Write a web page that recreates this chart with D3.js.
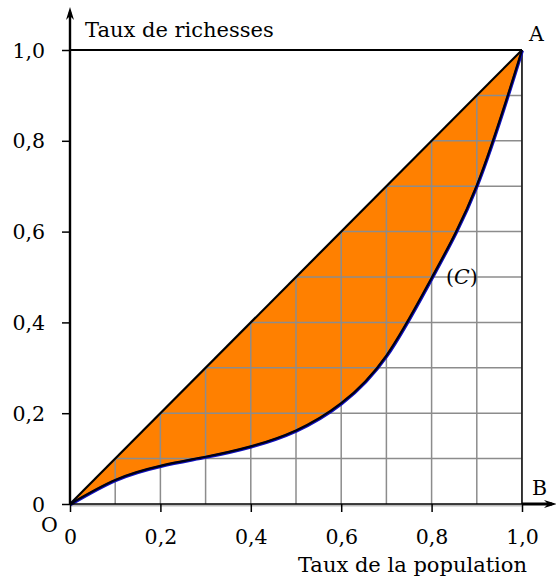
<!DOCTYPE html>
<html><head><meta charset="utf-8">
<script src="https://cdn.jsdelivr.net/npm/d3@7"></script>
<style>html,body{margin:0;padding:0;background:#fff;}svg{display:block;}</style>
</head><body>
<svg id="c" width="556" height="579"></svg>
<script>
const popShare = [0, 0.1, 0.2, 0.3, 0.4, 0.5, 0.6, 0.7, 0.8, 0.9, 1];
const wealthShare = [0, 0.053, 0.084, 0.104, 0.127, 0.162, 0.222, 0.327, 0.498, 0.702, 1];
const tickValues = [0, 0.2, 0.4, 0.6, 0.8, 1];
const tickLabels = ["0", "0,2", "0,4", "0,6", "0,8", "1,0"];
const gridValues = [0.1, 0.2, 0.3, 0.4, 0.5, 0.6, 0.7, 0.8, 0.9, 1];

const svg = d3.select("#c");
const font = "DejaVu Serif";
const x = d3.scaleLinear().domain([0, 1]).range([70, 522]);
const y = d3.scaleLinear().domain([0, 1]).range([504, 50]);

const pts = popShare.map((p, i) => [p, wealthShare[i]]);

// clip: triangle O, A, B
svg.append("defs").append("clipPath").attr("id", "tri")
  .append("path").attr("d", `M${x(0)},${y(0)}L${x(1)},${y(1)}L${x(1)},${y(0)}Z`);

// filled area between diagonal and curve
const curveGen = d3.line().x(d => x(d[0])).y(d => y(d[1])).curve(d3.curveNatural);
const curvePath = curveGen(pts);
svg.append("path")
  .attr("d", curvePath + "L" + x(0) + "," + y(0) + "Z")
  .attr("fill", "#ff8000").attr("stroke", "none");

// grid (only below the diagonal)
const g = svg.append("g").attr("stroke", "#8c8c8c").attr("stroke-width", 1.5).attr("clip-path", "url(#tri)");
gridValues.forEach(v => {
  g.append("line").attr("x1", x(v)).attr("x2", x(v)).attr("y1", y(0)).attr("y2", y(1));
  g.append("line").attr("x1", x(0)).attr("x2", x(1)).attr("y1", y(v)).attr("y2", y(v));
});
svg.append("line").attr("x1", x(1)).attr("x2", x(1)).attr("y1", y(1)).attr("y2", y(0))
  .attr("stroke", "#111").attr("stroke-width", 1.6);
svg.append("line").attr("x1", x(0)).attr("x2", x(1)).attr("y1", y(0)+1.5).attr("y2", y(0)+1.5)
  .attr("stroke", "#bbbbbb").attr("stroke-width", 2);

// top border
svg.append("line").attr("x1", x(0)).attr("x2", x(1)).attr("y1", y(1)).attr("y2", y(1))
  .attr("stroke", "#000").attr("stroke-width", 2.2);

// diagonal
svg.append("line").attr("x1", x(0)).attr("y1", y(0)).attr("x2", x(1)).attr("y2", y(1))
  .attr("stroke", "#000").attr("stroke-width", 2.2);

// curve
svg.append("path").attr("d", curvePath).attr("fill", "none")
  .attr("stroke", "#1010c0").attr("stroke-width", 3).attr("transform", "translate(0.5,0.6)");
svg.append("path").attr("d", curvePath).attr("fill", "none")
  .attr("stroke", "#000010").attr("stroke-width", 2.2);

// axes
const yAxis = d3.axisLeft(y).tickValues(tickValues).tickFormat((d, i) => tickLabels[i]).tickSize(8).tickPadding(12);
const xAxis = d3.axisBottom(x).tickValues(tickValues).tickFormat((d, i) => tickLabels[i]).tickSize(8).tickPadding(14);
const ya = svg.append("g").attr("transform", `translate(${x(0)},0)`).call(yAxis);
const xa = svg.append("g").attr("transform", `translate(0,${y(0)})`).call(xAxis);
[ya, xa].forEach(a => {
  a.select(".domain").remove();
  a.selectAll(".tick line").attr("stroke", "#000").attr("stroke-width", 1.5);
  a.selectAll(".tick text").attr("font-family", font).attr("font-size", 20.5).attr("fill", "#000");
});
ya.selectAll(".tick text").attr("x", -25).attr("dy", "0.35em");
xa.selectAll(".tick text").attr("dy", "0.88em");

// axis lines with arrows
svg.append("line").attr("x1", x(0)).attr("y1", y(0)).attr("x2", x(0)).attr("y2", 12)
  .attr("stroke", "#000").attr("stroke-width", 2.4);
svg.append("path").attr("d", `M${x(0)},7 L${x(0)-4},20 L${x(0)},16 L${x(0)+4},20 Z`).attr("fill", "#000");
svg.append("line").attr("x1", x(0)).attr("y1", y(0)).attr("x2", x(1)).attr("y2", y(0))
  .attr("stroke", "#000").attr("stroke-width", 1.6);
svg.append("line").attr("x1", x(1)).attr("y1", y(0)).attr("x2", 552).attr("y2", y(0))
  .attr("stroke", "#000").attr("stroke-width", 3);
svg.append("path").attr("d", `M${557},${y(0)} L${544},${y(0)-4} L${548},${y(0)} L${544},${y(0)+4} Z`).attr("fill", "#000");

// labels
const t = (txt, px, py, anchor, size) => svg.append("text").attr("x", px).attr("y", py)
  .attr("text-anchor", anchor || "start").attr("font-family", font).attr("font-size", size || 20.5)
  .attr("fill", "#000").text(txt);
t("Taux de richesses", 85, 37, "start", 21);
t("Taux de la population", 527, 572, "end", 21);
t("A", 529, 41);
t("B", 532, 495);
t("O", 41, 532);
const c = svg.append("text").attr("x", 446).attr("y", 284).attr("font-family", font).attr("font-size", 20.5);
c.append("tspan").text("(");
c.append("tspan").attr("font-style", "italic").text("C");
c.append("tspan").text(")");
</script>
</body></html>
